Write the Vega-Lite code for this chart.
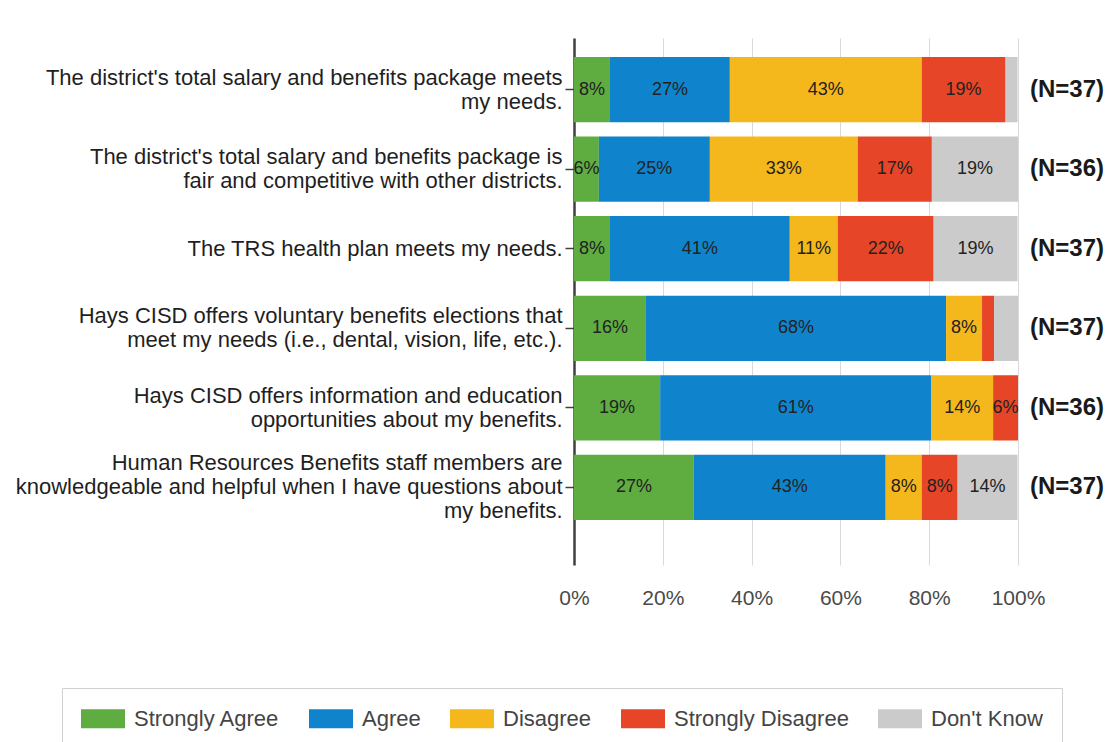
{
  "$schema": "https://vega.github.io/schema/vega-lite/v6.json",
  "width": 444,
  "height": 527,
  "autosize": {"type": "none"},
  "padding": {"left": 574, "top": 38, "right": 97, "bottom": 177},
  "background": "white",
  "config": {"view": {"stroke": null}, "font": "Liberation Sans"},
  "datasets": {
    "resp": [
      {"question": "The district's total salary and benefits package meets|my needs.", "response": "Strongly Agree", "ord": 1, "pct": 8.1, "label": "8%"},
      {"question": "The district's total salary and benefits package meets|my needs.", "response": "Agree", "ord": 2, "pct": 27.0, "label": "27%"},
      {"question": "The district's total salary and benefits package meets|my needs.", "response": "Disagree", "ord": 3, "pct": 43.2, "label": "43%"},
      {"question": "The district's total salary and benefits package meets|my needs.", "response": "Strongly Disagree", "ord": 4, "pct": 18.9, "label": "19%"},
      {"question": "The district's total salary and benefits package meets|my needs.", "response": "Don't Know", "ord": 5, "pct": 2.7, "label": ""},
      {"question": "The district's total salary and benefits package is|fair and competitive with other districts.", "response": "Strongly Agree", "ord": 1, "pct": 5.6, "label": "6%"},
      {"question": "The district's total salary and benefits package is|fair and competitive with other districts.", "response": "Agree", "ord": 2, "pct": 25.0, "label": "25%"},
      {"question": "The district's total salary and benefits package is|fair and competitive with other districts.", "response": "Disagree", "ord": 3, "pct": 33.3, "label": "33%"},
      {"question": "The district's total salary and benefits package is|fair and competitive with other districts.", "response": "Strongly Disagree", "ord": 4, "pct": 16.7, "label": "17%"},
      {"question": "The district's total salary and benefits package is|fair and competitive with other districts.", "response": "Don't Know", "ord": 5, "pct": 19.4, "label": "19%"},
      {"question": "The TRS health plan meets my needs.", "response": "Strongly Agree", "ord": 1, "pct": 8.1, "label": "8%"},
      {"question": "The TRS health plan meets my needs.", "response": "Agree", "ord": 2, "pct": 40.5, "label": "41%"},
      {"question": "The TRS health plan meets my needs.", "response": "Disagree", "ord": 3, "pct": 10.8, "label": "11%"},
      {"question": "The TRS health plan meets my needs.", "response": "Strongly Disagree", "ord": 4, "pct": 21.6, "label": "22%"},
      {"question": "The TRS health plan meets my needs.", "response": "Don't Know", "ord": 5, "pct": 18.9, "label": "19%"},
      {"question": "Hays CISD offers voluntary benefits elections that|meet my needs (i.e., dental, vision, life, etc.).", "response": "Strongly Agree", "ord": 1, "pct": 16.2, "label": "16%"},
      {"question": "Hays CISD offers voluntary benefits elections that|meet my needs (i.e., dental, vision, life, etc.).", "response": "Agree", "ord": 2, "pct": 67.6, "label": "68%"},
      {"question": "Hays CISD offers voluntary benefits elections that|meet my needs (i.e., dental, vision, life, etc.).", "response": "Disagree", "ord": 3, "pct": 8.1, "label": "8%"},
      {"question": "Hays CISD offers voluntary benefits elections that|meet my needs (i.e., dental, vision, life, etc.).", "response": "Strongly Disagree", "ord": 4, "pct": 2.7, "label": ""},
      {"question": "Hays CISD offers voluntary benefits elections that|meet my needs (i.e., dental, vision, life, etc.).", "response": "Don't Know", "ord": 5, "pct": 5.4, "label": ""},
      {"question": "Hays CISD offers information and education|opportunities about my benefits.", "response": "Strongly Agree", "ord": 1, "pct": 19.4, "label": "19%"},
      {"question": "Hays CISD offers information and education|opportunities about my benefits.", "response": "Agree", "ord": 2, "pct": 61.1, "label": "61%"},
      {"question": "Hays CISD offers information and education|opportunities about my benefits.", "response": "Disagree", "ord": 3, "pct": 13.9, "label": "14%"},
      {"question": "Hays CISD offers information and education|opportunities about my benefits.", "response": "Strongly Disagree", "ord": 4, "pct": 5.6, "label": "6%"},
      {"question": "Human Resources Benefits staff members are|knowledgeable and helpful when I have questions about|my benefits.", "response": "Strongly Agree", "ord": 1, "pct": 27.0, "label": "27%"},
      {"question": "Human Resources Benefits staff members are|knowledgeable and helpful when I have questions about|my benefits.", "response": "Agree", "ord": 2, "pct": 43.2, "label": "43%"},
      {"question": "Human Resources Benefits staff members are|knowledgeable and helpful when I have questions about|my benefits.", "response": "Disagree", "ord": 3, "pct": 8.1, "label": "8%"},
      {"question": "Human Resources Benefits staff members are|knowledgeable and helpful when I have questions about|my benefits.", "response": "Strongly Disagree", "ord": 4, "pct": 8.1, "label": "8%"},
      {"question": "Human Resources Benefits staff members are|knowledgeable and helpful when I have questions about|my benefits.", "response": "Don't Know", "ord": 5, "pct": 13.5, "label": "14%"}
    ],
    "ns": [
      {"question": "The district's total salary and benefits package meets|my needs.", "n": "(N=37)"},
      {"question": "The district's total salary and benefits package is|fair and competitive with other districts.", "n": "(N=36)"},
      {"question": "The TRS health plan meets my needs.", "n": "(N=37)"},
      {"question": "Hays CISD offers voluntary benefits elections that|meet my needs (i.e., dental, vision, life, etc.).", "n": "(N=37)"},
      {"question": "Hays CISD offers information and education|opportunities about my benefits.", "n": "(N=36)"},
      {"question": "Human Resources Benefits staff members are|knowledgeable and helpful when I have questions about|my benefits.", "n": "(N=37)"}
    ]
  },
  "layer": [
    {
      "data": {"name": "resp"},
      "mark": {"type": "bar"},
      "encoding": {
        "y": {
          "field": "question", "type": "nominal", "sort": null,
          "scale": {"paddingInner": 0.18, "paddingOuter": 0.4025, "align": 0.297},
          "axis": {
            "title": null,
            "labelExpr": "split(datum.value, '|')",
            "labelFontSize": 22,
            "labelLineHeight": 24,
            "labelLimit": 700,
            "labelColor": "#1f1f1f",
            "labelPadding": 3,
            "labelOffset": {
              "condition": [
                {"test": "indexof(datum.value, 'Human') == 0", "value": -24},
                {"test": "indexof(datum.value, '|') >= 0", "value": -12}
              ],
              "value": 0
            },
            "tickSize": 9,
            "tickColor": "#404040",
            "tickWidth": 1.5,
            "domainColor": "#404040",
            "domainWidth": 2.5,
            "grid": false
          }
        },
        "x": {
          "field": "pct", "type": "quantitative", "stack": "zero",
          "scale": {"domain": [0, 100], "nice": false},
          "axis": {
            "title": null,
            "values": [0, 20, 40, 60, 80, 100],
            "labelExpr": "datum.value + '%'",
            "labelFlush": false,
            "domain": false,
            "ticks": false,
            "grid": true,
            "gridColor": "#d9d9d9",
            "gridWidth": 1,
            "labelFontSize": 21,
            "labelColor": "#4a4a4a",
            "labelPadding": 22
          }
        },
        "color": {
          "field": "response", "type": "nominal",
          "scale": {
            "domain": ["Strongly Agree", "Agree", "Disagree", "Strongly Disagree", "Don't Know"],
            "range": ["#5fad41", "#0f84cc", "#f5b81c", "#e64627", "#cbcbcb"]
          },
          "legend": {
            "orient": "none",
            "legendX": -512,
            "legendY": 650,
            "direction": "horizontal",
            "columns": 5,
            "title": null,
            "symbolType": "M-1,-0.826H2.826V0.826H-1Z",
            "symbolSize": 529,
            "symbolStrokeWidth": 0,
            "labelFontSize": 22,
            "labelColor": "#444444",
            "labelOffset": 30,
            "labelLimit": 300,
            "columnPadding": 29,
            "padding": 19,
            "strokeColor": "#d0d0d0"
          }
        },
        "order": {"field": "ord"}
      }
    },
    {
      "data": {"name": "resp"},
      "mark": {"type": "text", "fontSize": 18, "color": "#222222"},
      "encoding": {
        "y": {"field": "question", "type": "nominal", "sort": null},
        "x": {"field": "pct", "type": "quantitative", "stack": "zero", "bandPosition": 0.5},
        "detail": {"field": "response"},
        "text": {"field": "label"},
        "order": {"field": "ord"}
      }
    },
    {
      "data": {"name": "ns"},
      "mark": {"type": "text", "align": "left", "dx": 12, "fontSize": 24, "fontWeight": "bold", "color": "#1a1a1a"},
      "encoding": {
        "y": {"field": "question", "type": "nominal", "sort": null},
        "x": {"datum": 100},
        "text": {"field": "n"}
      }
    }
  ]
}
